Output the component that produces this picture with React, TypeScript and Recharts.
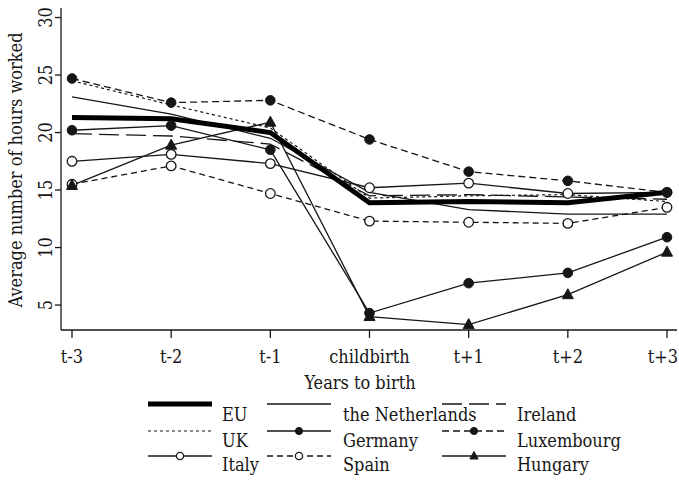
import React from 'react';
import { LineChart, Line, XAxis, YAxis } from 'recharts';

const categories = ['t-3', 't-2', 't-1', 'childbirth', 't+1', 't+2', 't+3'];
const eu = [21.3, 21.2, 20.0, 13.9, 14.0, 13.9, 14.8];
const uk = [24.5, 22.4, 20.4, 14.3, 14.5, 14.6, 14.0];
const italy = [17.5, 18.1, 17.3, 15.2, 15.6, 14.7, 14.8];
const netherlands = [23.1, 21.6, 19.5, 14.8, 13.3, 12.9, 12.9];
const germany = [20.2, 20.6, 18.5, 4.3, 6.9, 7.8, 10.9];
const spain = [15.5, 17.1, 14.7, 12.3, 12.2, 12.1, 13.5];
const ireland = [19.9, 19.7, 19.0, 14.5, 14.6, 14.4, 14.2];
const luxembourg = [24.7, 22.6, 22.8, 19.4, 16.6, 15.8, 14.8];
const hungary = [15.4, 18.9, 20.9, 4.0, 3.3, 5.9, 9.6];
const yTicks = [5, 10, 15, 20, 25, 30];

const FONT = "'DejaVu Serif Condensed', 'DejaVu Serif'";
const FS = 18;
const INK = '#161616';

type Marker = 'none' | 'filled' | 'open' | 'triangle';
interface Series { key: string; name: string; values: number[]; width: number; dash?: string; marker: Marker; }

const series: Series[] = [
  { key: 'uk', name: 'UK', values: uk, width: 1.2, dash: '3 3', marker: 'none' },
  { key: 'ireland', name: 'Ireland', values: ireland, width: 1.3, dash: '20 7', marker: 'none' },
  { key: 'netherlands', name: 'the Netherlands', values: netherlands, width: 1.3, marker: 'none' },
  { key: 'italy', name: 'Italy', values: italy, width: 1.3, marker: 'open' },
  { key: 'spain', name: 'Spain', values: spain, width: 1.3, dash: '6 4', marker: 'open' },
  { key: 'germany', name: 'Germany', values: germany, width: 1.3, marker: 'filled' },
  { key: 'luxembourg', name: 'Luxembourg', values: luxembourg, width: 1.3, dash: '7 4', marker: 'filled' },
  { key: 'hungary', name: 'Hungary', values: hungary, width: 1.3, marker: 'triangle' },
  { key: 'eu', name: 'EU', values: eu, width: 5, marker: 'none' },
];

const legendOrder = [
  ['eu', 'uk', 'italy'],
  ['netherlands', 'germany', 'spain'],
  ['ireland', 'luxembourg', 'hungary'],
];

const data = categories.map((c, i) => {
  const row: Record<string, string | number> = { cat: c };
  series.forEach((s) => { row[s.key] = s.values[i]; });
  return row;
});

function drawMarker(marker: Marker, cx: number, cy: number, key: string, size = 1) {
  const r = 4.8 * size;
  if (marker === 'filled') return <circle key={key} cx={cx} cy={cy} r={r} fill={INK} stroke={INK} strokeWidth={1} />;
  if (marker === 'open') return <circle key={key} cx={cx} cy={cy} r={r} fill="#fff" stroke={INK} strokeWidth={1.3} />;
  if (marker === 'triangle') return <path key={key} d={`M${cx},${cy - 6 * size} L${cx - 5.5 * size},${cy + 4 * size} L${cx + 5.5 * size},${cy + 4 * size} Z`} fill={INK} stroke={INK} strokeWidth={1} />;
  return <g key={key} />;
}

const makeDot = (s: Series) => (props: any) => {
  const { cx, cy, index } = props;
  if (cx == null || cy == null) return <g key={`${s.key}-${index}`} />;
  return drawMarker(s.marker, cx, cy, `${s.key}-${index}`);
};

const YTick = (props: any) => {
  const { x, y, payload } = props;
  return (
    <text x={x} y={y} transform={`rotate(-90, ${x}, ${y})`} textAnchor="middle" style={{ fontFamily: FONT }} fontSize={FS} fill={INK}>
      {payload.value}
    </text>
  );
};

const XTick = (props: any) => {
  const { x, y, payload, index } = props;
  const last = index === categories.length - 1;
  return (
    <text x={last ? 678 : x} y={y} dy={14} textAnchor={last ? 'end' : 'middle'} style={{ fontFamily: FONT }} fontSize={FS} fill={INK}>
      {payload.value}
    </text>
  );
};

export default function App() {
  const colLineX = [148, 267, 442];
  const colTextX = [222, 343, 517];
  const rowLineY = [404, 431, 456];
  const rowTextY = [421, 447, 471];
  return (
    <div style={{ position: 'absolute', left: 0, top: 0, width: 679, height: 481, background: '#fff', fontFamily: FONT }}>
      <LineChart width={679} height={481} data={data} margin={{ top: 8, right: 2, bottom: 91, left: 0 }}>
        <XAxis
          dataKey="cat"
          height={60}
          padding={{ left: 11, right: 10 }}
          tickSize={8}
          tickMargin={11}
          tick={<XTick />}
          axisLine={{ stroke: INK, strokeWidth: 1.3 }}
          tickLine={{ stroke: INK, strokeWidth: 1.3 }}
          interval={0}
          label={{
            content: () => (
              <text x={360} y={389} textAnchor="middle" style={{ fontFamily: FONT }} fontSize={FS} fill={INK}>Years to birth</text>
            ),
          }}
        />
        <YAxis
          width={61}
          domain={[2.83, 30.83]}
          ticks={yTicks}
          allowDataOverflow
          tickSize={6}
          tickMargin={3}
          tick={<YTick />}
          axisLine={{ stroke: INK, strokeWidth: 1.3 }}
          tickLine={{ stroke: INK, strokeWidth: 1.3 }}
          label={{
            content: () => (
              <text x={22} y={170} transform="rotate(-90, 22, 170)" textAnchor="middle" style={{ fontFamily: FONT }} fontSize={FS} fill={INK}>
                Average number of hours worked
              </text>
            ),
          }}
        />
        {series.map((s) => (
          <Line
            key={s.key}
            dataKey={s.key}
            name={s.name}
            type="linear"
            stroke={s.key === 'eu' ? '#000' : INK}
            strokeWidth={s.width}
            strokeDasharray={s.dash}
            dot={makeDot(s)}
            activeDot={false}
            isAnimationActive={false}
          />
        ))}
      </LineChart>
      <svg width={679} height={481} style={{ position: 'absolute', left: 0, top: 0, pointerEvents: 'none' }}>
        {legendOrder.map((col, ci) =>
          col.map((k, ri) => {
            const s = series.find((q) => q.key === k)!;
            const x1 = colLineX[ci];
            const x2 = x1 + 64;
            const ly = rowLineY[ri];
            return (
              <g key={k}>
                <line x1={x1} x2={x2} y1={ly} y2={ly} stroke={s.key === 'eu' ? '#000' : INK} strokeWidth={s.width} strokeDasharray={s.dash} />
                {drawMarker(s.marker, (x1 + x2) / 2, ly, `lg-${k}`, 0.75)}
                <text x={colTextX[ci]} y={rowTextY[ri]} style={{ fontFamily: FONT }} fontSize={FS} fill={INK}>{s.name}</text>
              </g>
            );
          })
        )}
      </svg>
    </div>
  );
}
